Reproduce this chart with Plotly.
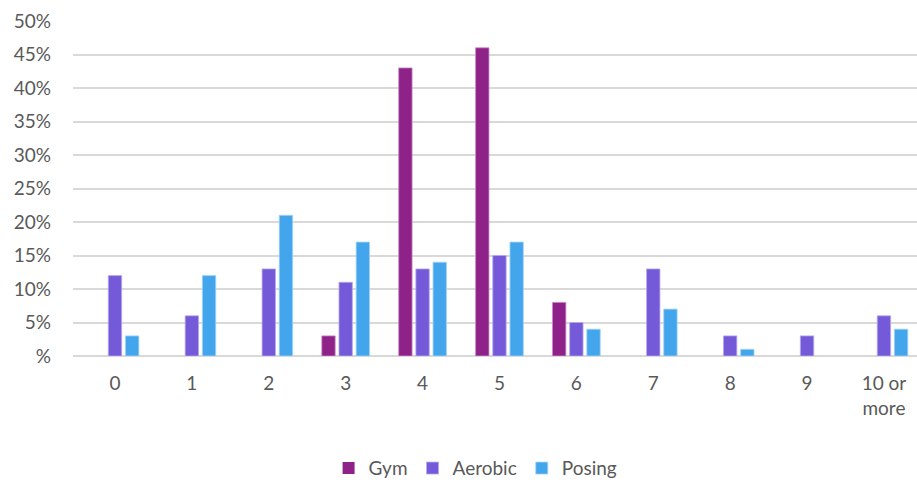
import plotly.graph_objects as go

categories = ["0", "1", "2", "3", "4", "5", "6", "7", "8", "9", "10 or<br>more"]
gym = [0, 0, 0, 3, 43, 46, 8, 0, 0, 0, 0]
aerobic = [12, 6, 13, 11, 13, 15, 5, 13, 3, 3, 6]
posing = [3, 12, 21, 17, 14, 17, 4, 7, 1, 0, 4]
y_ticks = [0, 5, 10, 15, 20, 25, 30, 35, 40, 45, 50]
y_labels = ["%"] + [f"{v}%" for v in y_ticks[1:]]

series = [
    ("Gym", gym, "#8E2289", "#C98BC6"),
    ("Aerobic", aerobic, "#745AD8", "#B7A9EE"),
    ("Posing", posing, "#43A6EC", "#A3D3F6"),
]

family = "Lato, Carlito, 'Liberation Sans', sans-serif"
font = dict(family=family, size=19, color="#595959")

fig = go.Figure()
for name, vals, color, edge in series:
    fig.add_trace(go.Bar(
        x=categories, y=vals, name=name,
        marker=dict(color=color,
                    line=dict(color=edge, width=[0.8 if v > 0 else 0 for v in vals])),
    ))

fig.update_layout(
    width=917, height=482,
    margin=dict(l=73, r=0, t=21, b=126, autoexpand=False),
    paper_bgcolor="white", plot_bgcolor="white",
    font=font,
    barmode="group", bargap=0.33, bargroupgap=0.22,
    showlegend=True,
    legend=dict(orientation="h", x=0.477, xanchor="center", y=-0.335, yanchor="middle",
                font=dict(family=family, size=19, color="#595959"),
                itemwidth=30, traceorder="normal", tracegroupgap=0),
    xaxis=dict(range=[-0.546, 10.43], showgrid=False, showline=False, ticks="",
               tickfont=font, ticklabelstandoff=14),
    yaxis=dict(range=[0, 50], tickvals=y_ticks, ticktext=y_labels,
               showgrid=True, gridcolor="#D9D9D9", gridwidth=1.5,
               zeroline=True, zerolinecolor="#D9D9D9", zerolinewidth=1.5,
               ticks="", tickfont=font, ticklabelstandoff=21),
)

fig.write_html("out.html")
